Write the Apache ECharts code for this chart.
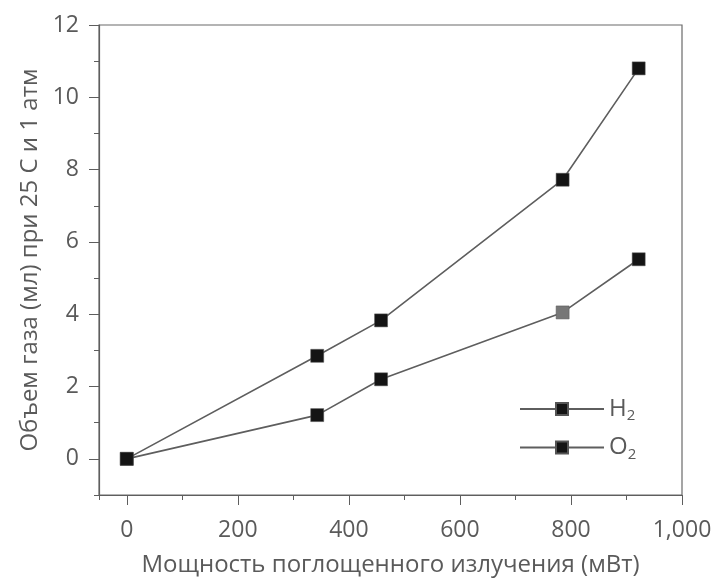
<!DOCTYPE html>
<html>
<head>
<meta charset="utf-8">
<script src="https://cdn.jsdelivr.net/npm/echarts@6/dist/echarts.min.js"></script>
<style>
  html, body { margin: 0; padding: 0; background: #fff; }
  #chart { width: 717px; height: 582px; }
</style>
</head>
<body>
<div id="chart"></div>
<script>
// поглощенная мощность, мВт
var power = [0, 343, 458, 785, 922];
// объем газа, мл
var h2Volume = [0, 2.85, 3.83, 7.72, 10.8];
var o2Volume = [0, 1.21, 2.2, 4.05, 5.52];

var textColor = '#5a5a5a';
var lineColor = '#5e5e5e';
var fontName = 'Open Sans';

function pairs(xs, ys) {
    return xs.map(function (x, i) { return [x, ys[i]]; });
}

var o2Data = pairs(power, o2Volume);
// точка при ~785 мВт на оригинале серая
o2Data[3] = { value: o2Data[3], itemStyle: { color: '#777' } };

var myChart = echarts.init(document.getElementById('chart'));
var option = {
    backgroundColor: '#fff',
    animation: false,
    textStyle: { fontFamily: fontName },
    grid: {
        left: 99,
        right: 35,
        top: 25,
        bottom: 85,
        show: true,
        borderColor: '#6a6a6a',
        borderWidth: 1.2
    },
    legend: {
        orient: 'vertical',
        left: 514,
        top: 392,
        itemWidth: 84,
        itemHeight: 15,
        itemGap: 12,
        data: ['H2', 'O2'],
        formatter: function (name) {
            return '{b|' + name.charAt(0) + '}{s|2}';
        },
        textStyle: {
            color: textColor,
            rich: {
                b: { fontSize: 24, color: textColor, fontFamily: fontName },
                s: { fontSize: 15, color: textColor, fontFamily: fontName, padding: [14, 0, 0, 0] }
            }
        }
    },
    xAxis: [
        {
            type: 'value',
            min: -50,
            max: 1000,
            splitNumber: 5,
            name: 'Мощность поглощенного излучения (мВт)',
            nameLocation: 'middle',
            nameGap: 58,
            nameTextStyle: { fontSize: 24, color: textColor },
            axisLine: { show: true, onZero: false, lineStyle: { color: lineColor, width: 1.2 } },
            axisTick: { show: true, inside: false, length: 10, lineStyle: { color: lineColor } },
            axisLabel: {
                showMinLabel: false,
                margin: 24,
                fontSize: 23,
                color: textColor,
                formatter: function (v) { return v === -50 ? '' : v.toLocaleString('en-US'); }
            },
            splitLine: { show: false }
        },
        {
            // короткие промежуточные риски
            type: 'value',
            position: 'bottom',
            min: -50,
            max: 1000,
            splitNumber: 10,
            axisLine: { show: false, onZero: false },
            axisTick: { show: true, length: 5, lineStyle: { color: lineColor } },
            axisLabel: { show: false },
            splitLine: { show: false }
        }
    ],
    yAxis: [
        {
            type: 'value',
            min: -1,
            max: 12,
            splitNumber: 6,
            name: 'Объем газа (мл) при 25 С и 1 атм',
            nameLocation: 'middle',
            nameGap: 56,
            nameTextStyle: { fontSize: 24, color: textColor },
            axisLine: { show: true, onZero: false, lineStyle: { color: lineColor, width: 1.2 } },
            axisTick: { show: true, inside: false, length: 10, lineStyle: { color: lineColor } },
            axisLabel: {
                showMinLabel: false,
                margin: 20,
                fontSize: 23,
                color: textColor,
                formatter: function (v) { return v === -1 ? '' : String(v); }
            },
            splitLine: { show: false }
        },
        {
            type: 'value',
            position: 'left',
            min: -1,
            max: 12,
            interval: 1,
            axisLine: { show: false, onZero: false },
            axisTick: { show: true, length: 5, lineStyle: { color: lineColor } },
            axisLabel: { show: false },
            splitLine: { show: false }
        }
    ],
    series: [
        {
            name: 'H2',
            type: 'line',
            data: pairs(power, h2Volume),
            symbol: 'rect',
            symbolSize: 13,
            lineStyle: { color: lineColor, width: 1.6 },
            itemStyle: { color: '#141414', borderColor: '#555', borderWidth: 0.5 }
        },
        {
            name: 'O2',
            type: 'line',
            data: o2Data,
            symbol: 'rect',
            symbolSize: 13,
            lineStyle: { color: lineColor, width: 1.6 },
            itemStyle: { color: '#141414', borderColor: '#555', borderWidth: 0.5 }
        }
    ]
};

option && myChart.setOption(option);
</script>
</body>
</html>
